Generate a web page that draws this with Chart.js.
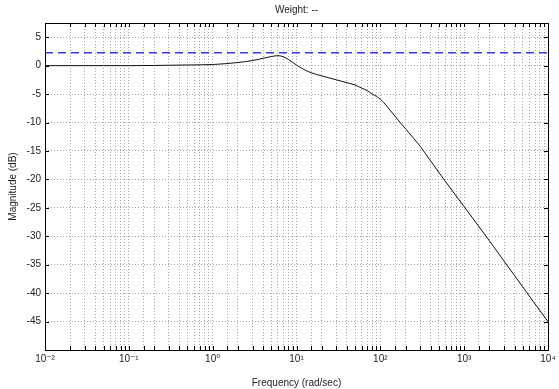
<!DOCTYPE html>
<html><head><meta charset="utf-8">
<script src="https://cdn.jsdelivr.net/npm/chart.js@4.4.1/dist/chart.umd.min.js"></script>
<style>html,body{margin:0;padding:0;background:#fff}</style>
</head><body>
<canvas id="c" width="559" height="389" style="display:block;width:559px;height:389px"></canvas>
<script>
// Frequency (rad/sec) and magnitude (dB)
const freq = [0.01, 0.02, 0.05, 0.1, 0.2, 0.5, 1, 2, 3, 4, 5, 6, 7, 8, 10, 12, 15, 20, 30, 40, 50, 60, 70, 80, 90, 100, 110, 130, 150, 170, 200, 250, 300, 400, 600, 1000, 1500, 2000, 3000, 5000, 7000, 10000];
const magnitudeDb = [0.0, 0.0, 0.0, 0.0, 0.03, 0.12, 0.2, 0.55, 0.9, 1.3, 1.6, 1.76, 1.55, 1.1, 0.1, -0.6, -1.25, -1.8, -2.5, -3.0, -3.4, -3.95, -4.4, -5.0, -5.4, -5.9, -6.5, -7.8, -8.9, -9.9, -11.1, -12.8, -14.2, -16.8, -20.4, -24.8, -28.3, -30.8, -34.4, -38.9, -41.9, -45.0];
// dashed blue weight level
const weightFreq = [0.01, 10000];
const weightDb = [2.25, 2.25];
// axes
const yTickValues = [5, 0, -5, -10, -15, -20, -25, -30, -35, -40, -45];
const xDecades = [0.01, 0.1, 1, 10, 100, 1000, 10000];
const xDecadeLabels = ['10⁻²', '10⁻¹', '10⁰', '10¹', '10²', '10³', '10⁴'];
const titleText = 'Weight: --';
const xTitle = 'Frequency (rad/sec)';
const yTitle = 'Magnitude (dB)';

const FONT = '"Liberation Sans", Arial, "DejaVu Sans", sans-serif';

const frame = {
  id: 'frame',
  afterDraw(chart) {
    const {ctx, chartArea: a, scales: {x, y}} = chart;
    ctx.save();
    ctx.strokeStyle = '#000';
    ctx.lineWidth = 1;
    ctx.setLineDash([]);
    ctx.beginPath();
    x.ticks.forEach(t => {
      const px = Math.round(x.getPixelForValue(t.value)) + 0.5;
      ctx.moveTo(px, a.bottom); ctx.lineTo(px, a.bottom - 4);
      ctx.moveTo(px, a.top); ctx.lineTo(px, a.top + 4);
    });
    y.ticks.forEach(t => {
      const py = Math.round(y.getPixelForValue(t.value)) + 0.5;
      ctx.moveTo(a.left, py); ctx.lineTo(a.left + 4, py);
      ctx.moveTo(a.right, py); ctx.lineTo(a.right - 4, py);
    });
    ctx.stroke();
    ctx.strokeRect(Math.round(a.left) + 0.5, Math.round(a.top) + 0.5, Math.round(a.right - a.left), Math.round(a.bottom - a.top));
    ctx.restore();
  }
};

new Chart(document.getElementById('c'), {
  type: 'line',
  data: {
    datasets: [
      {
        data: freq.map((f, i) => ({x: f, y: magnitudeDb[i]})),
        borderColor: '#111', borderWidth: 1, pointRadius: 0,
        cubicInterpolationMode: 'monotone', fill: false
      },
      {
        data: weightFreq.map((f, i) => ({x: f, y: weightDb[i]})),
        borderColor: '#3a3ae0', borderWidth: 1.5, borderDash: [8, 5],
        pointRadius: 0, fill: false
      }
    ]
  },
  options: {
    responsive: false, animation: false, devicePixelRatio: 1,
    layout: {padding: {left: 0, right: 11, top: 0, bottom: 0}},
    plugins: {
      legend: {display: false},
      tooltip: {enabled: false},
      title: {
        display: true, text: titleText, fullSize: false, color: '#222',
        font: {family: FONT, size: 10, weight: 'normal', lineHeight: 1.2},
        padding: {top: 4, bottom: 7}
      }
    },
    scales: {
      x: {
        type: 'logarithmic', min: 0.01, max: 10000,
        afterFit(s) { s.height = 39; },
        border: {display: false, dash: [1, 2]},
        grid: {color: '#a8a8a8', lineWidth: 1, drawTicks: false},
        ticks: {
          autoSkip: false, maxRotation: 0, minRotation: 0, padding: 3, color: '#222',
          font: {family: FONT, size: 10},
          callback(value) {
            const i = xDecades.findIndex(d => Math.abs(Math.log10(d) - Math.log10(value)) < 1e-6);
            return i >= 0 ? xDecadeLabels[i] : '';
          }
        },
        title: {display: true, text: xTitle, color: '#222', font: {family: FONT, size: 10}, padding: {top: 13, bottom: 0}}
      },
      y: {
        type: 'linear', min: -50, max: 7.5,
        afterFit(s) { s.width = 45; },
        afterBuildTicks(s) { s.ticks = yTickValues.map(v => ({value: v})); },
        border: {display: false, dash: [1, 2]},
        grid: {color: '#a8a8a8', lineWidth: 1, drawTicks: false},
        ticks: {padding: 4, color: '#222', font: {family: FONT, size: 10}},
        title: {display: true, text: yTitle, color: '#222', font: {family: FONT, size: 10}, padding: {top: 7, bottom: 0}}
      }
    }
  },
  plugins: [frame]
});
</script>
</body></html>
